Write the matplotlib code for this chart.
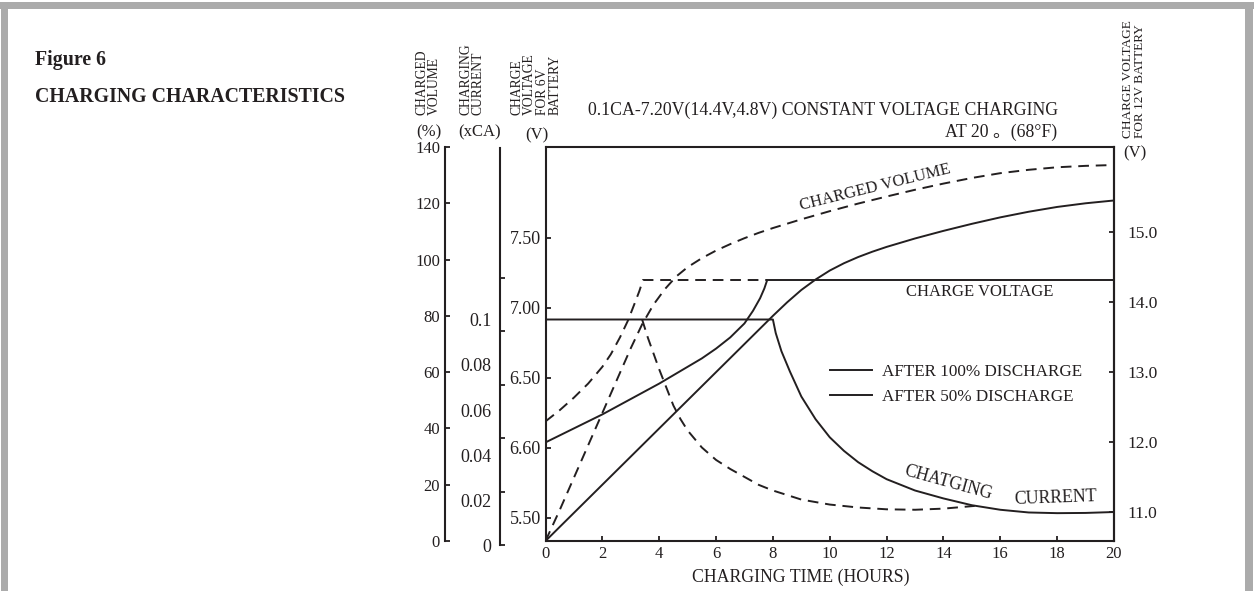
import matplotlib
matplotlib.use("Agg")
import matplotlib.pyplot as plt
from matplotlib.patches import Rectangle
from matplotlib.lines import Line2D

plt.rcParams['font.family'] = ['Liberation Serif', 'Noto Sans CJK SC']
INK = "#231f20"
GRAY = "#ababab"

# ---- data ----
# charge voltage (6V battery scale, V)
hours_volt_100 = [0, 1, 2, 3, 4, 5, 5.5, 6, 6.5, 7, 7.3, 7.55, 7.7, 7.8, 20]
volt_100 = [6.04, 6.14, 6.24, 6.35, 6.46, 6.58, 6.64, 6.71, 6.79, 6.89, 6.98, 7.07, 7.14, 7.20, 7.20]
hours_volt_50 = [0, 0.5, 1, 1.5, 2, 2.3, 2.62, 2.9, 3.15, 3.3, 3.43, 7.8]
volt_50 = [6.19, 6.27, 6.36, 6.46, 6.58, 6.67, 6.79, 6.91, 7.04, 7.12, 7.20, 7.20]

# charged volume (%)
hours_vol_100 = [0, 8, 8.5, 9, 9.5, 10, 10.5, 11, 11.5, 12, 13, 14, 15, 16, 17, 18, 19, 20]
vol_100 = [0, 80, 84.8, 89.2, 92.9, 96.1, 98.7, 100.9, 102.8, 104.5, 107.5, 110.2, 112.7,
           115, 117, 118.7, 120, 121]
hours_vol_50 = [0, 0.5, 1, 1.5, 2, 2.5, 3, 3.4, 3.8, 4.2, 4.6, 5, 5.5, 6, 6.5, 7, 7.5, 8,
                9, 10, 11, 12, 13, 14, 15, 16, 17, 18, 19, 20]
vol_50 = [0, 11, 22.5, 34, 45.5, 57, 68.5, 77, 84, 89.5, 94, 97.3, 100.5, 103.2, 105.5, 107.6,
          109.5, 111.2, 114.3, 117.2, 119.9, 122.4, 124.8, 127, 129, 130.7, 131.9, 132.8, 133.3, 133.6]

# charging current (xCA)
hours_cur_100 = [0, 8, 8.1, 8.3, 8.6, 9.0, 9.5, 10, 10.5, 11, 11.5, 12, 13, 14, 15, 16, 17,
                 18, 19, 20]
cur_100 = [0.1, 0.1, 0.094, 0.086, 0.077, 0.066, 0.056, 0.048, 0.042, 0.037, 0.033, 0.0295,
           0.0245, 0.021, 0.018, 0.016, 0.0148, 0.0145, 0.0146, 0.015]
hours_cur_50 = [3.4, 3.6, 3.8, 4.0, 4.25, 4.5, 4.75, 5, 5.5, 6, 6.5, 7, 7.5, 8, 9, 10, 11,
                12, 13, 14, 15.1]
cur_50 = [0.1, 0.092, 0.085, 0.078, 0.070, 0.062, 0.056, 0.051, 0.0435, 0.038, 0.034, 0.0305,
          0.027, 0.0245, 0.0205, 0.0183, 0.017, 0.0162, 0.016, 0.0165, 0.0177]

# axis ticks
hour_ticks = list(range(0, 21, 2))
vol_ticks = list(range(0, 141, 20))
cur_ticks = [0, 0.02, 0.04, 0.06, 0.08, 0.1]
cur_labels = ["0", "0.02", "0.04", "0.06", "0.08", "0.1"]
volt6_ticks = [5.5, 6.0, 6.5, 7.0, 7.5]
volt6_labels = ["5.50", "6.60", "6.50", "7.00", "7.50"]
volt12_ticks = [11, 12, 13, 14, 15]
volt12_labels = ["11.0", "12.0", "13.0", "14.0", "15.0"]

# ---- layout helpers (pixel -> figure fraction) ----
W, H = 1254, 591
def fx(px):
    return px / W
def fy(py):
    return 1 - py / H

fig = plt.figure(figsize=(W / 100, H / 100), dpi=100)
fig.patch.set_facecolor("white")

# grey frame
fig.add_artist(Rectangle((0, fy(9)), 1, 7 / H, transform=fig.transFigure, color=GRAY, lw=0))
fig.add_artist(Rectangle((fx(1), 0), 7 / W, fy(2), transform=fig.transFigure, color=GRAY, lw=0))
fig.add_artist(Rectangle((fx(1245), 0), 8 / W, fy(2), transform=fig.transFigure, color=GRAY, lw=0))

L, R, T, B = 545.5, 1114, 147, 541
box_w = (R - L) / W
ax = fig.add_axes([fx(L), fy(B), box_w, (B - T) / H])
ax.set_xlim(0, 20)
ax.set_ylim(5.5 - 23 / 140, 5.5 + 371 / 140)
for s in ax.spines.values():
    s.set_linewidth(1.5)
    s.set_color(INK)
ax.set_xticks(hour_ticks)
ax.set_yticks(volt6_ticks)
ax.set_yticklabels(volt6_labels)
ax.tick_params(axis='x', direction='in', length=3.6, width=1.3, labelsize=12, pad=3.5, colors=INK)
ax.tick_params(axis='y', direction='in', length=3.6, width=1.3, labelsize=13, pad=3.5, colors=INK)

lw = 1.4
dash = (0, (5.5, 3.5))
ax.plot(hours_volt_100, volt_100, color=INK, lw=lw)
ax.plot(hours_volt_50, volt_50, color=INK, lw=lw, ls=dash)

# right axis: 12V battery
ax12 = ax.twinx()
ax12.set_ylim(11 - 29 / 70, 11 + 365 / 70)
ax12.set_yticks(volt12_ticks)
ax12.set_yticklabels(volt12_labels)
ax12.tick_params(axis='y', direction='in', length=3.6, width=1.3, labelsize=12.5, pad=10, colors=INK)
for name, s in ax12.spines.items():
    s.set_visible(name == 'right')
    s.set_linewidth(1.5)
    s.set_color(INK)

# charged volume axis
axv = ax.twinx()
axv.set_ylim(0, 140)
axv.yaxis.set_ticks_position('left')
axv.spines['left'].set_position(('axes', (445 - L) / (R - L)))
for name, s in axv.spines.items():
    s.set_visible(name == 'left')
    s.set_linewidth(1.5)
    s.set_color(INK)
axv.set_yticks(vol_ticks)
axv.tick_params(axis='y', direction='in', length=3.6, width=1.3, labelsize=12, pad=3.6, colors=INK)
axv.plot(hours_vol_100, vol_100, color=INK, lw=lw)
axv.plot(hours_vol_50, vol_50, color=INK, lw=lw, ls=dash)

# charging current axis: spine with its own tick marks
axcs = fig.add_axes([fx(L), fy(545), box_w, (545 - 148) / H])
axcs.patch.set_visible(False)
axcs.set_xlim(0, 20)
axcs.set_ylim(0, 0.1 * (545 - 148) / (545 - 278))
axcs.xaxis.set_visible(False)
axcs.spines['left'].set_position(('axes', (500 - L) / (R - L)))
for name, s in axcs.spines.items():
    s.set_visible(name == 'left')
    s.set_linewidth(1.5)
    s.set_color(INK)
axcs.set_yticks(cur_ticks)
axcs.set_yticklabels([])
axcs.tick_params(axis='y', direction='in', length=3.6, width=1.3, colors=INK)

# charging current data + labels
axc = fig.add_axes([fx(L), fy(546), box_w, (546 - T) / H])
axc.patch.set_visible(False)
axc.set_xlim(0, 20)
axc.set_ylim(0, 0.1 * (546 - T) / 226.5)
axc.xaxis.set_visible(False)
axc.spines['left'].set_position(('axes', (500 - L) / (R - L)))
for s in axc.spines.values():
    s.set_visible(False)
axc.set_yticks(cur_ticks)
axc.set_yticklabels(cur_labels)
axc.tick_params(axis='y', length=0, labelsize=13, pad=6, colors=INK)
axc.plot(hours_cur_100, cur_100, color=INK, lw=lw)
axc.plot(hours_cur_50, cur_50, color=INK, lw=lw, ls=dash)

# legend
handles = [Line2D([], [], color=INK, lw=lw), Line2D([], [], color=INK, lw=lw)]
ax.legend(handles, ["AFTER 100% DISCHARGE", "AFTER 50% DISCHARGE"], loc='upper left',
          bbox_to_anchor=(fx(830), fy(364)), bbox_transform=fig.transFigure, frameon=False,
          fontsize=12.3, handlelength=2.45, handletextpad=0.6, labelspacing=0.5,
          borderpad=0, borderaxespad=0, labelcolor=INK)

# curve annotations
fig.text(fx(875), fy(188), "CHARGED VOLUME", rotation=13.9, rotation_mode='anchor',
         ha='center', va='center', fontsize=12, color=INK)
fig.text(fx(980), fy(292), "CHARGE VOLTAGE", ha='center', va='center', fontsize=12, color=INK)
fig.text(fx(948), fy(483), "CHATGING", rotation=-15.5, rotation_mode='anchor',
         ha='center', va='center', fontsize=12.8, color=INK)
fig.text(fx(1055), fy(498), "CURRENT", rotation=2, rotation_mode='anchor',
         ha='center', va='center', fontsize=12.8, color=INK)

# headings
fig.text(fx(35), fy(60), "Figure 6", fontsize=14.3, fontweight='bold', va='center', color=INK)
fig.text(fx(35), fy(97), "CHARGING CHARACTERISTICS", fontsize=14.3, fontweight='bold',
         va='center', color=INK)
fig.text(fx(588), fy(110), "0.1CA-7.20V(14.4V,4.8V) CONSTANT VOLTAGE CHARGING",
         fontsize=12.8, va='center', color=INK)
fig.text(fx(1057), fy(132), "AT 20 。(68°F)", fontsize=12.8, ha='right', va='center', color=INK)

# axis titles
fig.text(fx(910), fy(577), "CHARGING TIME (HOURS)", fontsize=12.8, ha='right', va='center', color=INK)
for x, txt in [(428, "CHARGED\nVOLUME"), (472, "CHARGING\nCURRENT"),
               (536, "CHARGE\nVOLTAGE\nFOR 6V\nBATTERY")]:
    fig.text(fx(x), fy(115), txt, rotation=90, ha='center', va='bottom', multialignment='left',
             fontsize=9.8, linespacing=0.95, color=INK)
fig.text(fx(1134), fy(138), "CHARGE VOLTAGE\nFOR 12V BATTERY", rotation=90, ha='center',
         va='bottom', multialignment='left', fontsize=9.5, linespacing=0.95, color=INK)
for x, y, txt in [(429, 132, "(%)"), (480, 132, "(xCA)"), (537, 135, "(V)"), (1135, 153, "(V)")]:
    fig.text(fx(x), fy(y), txt, ha='center', va='center', fontsize=12, color=INK)

fig.savefig("out.png", dpi=100)
